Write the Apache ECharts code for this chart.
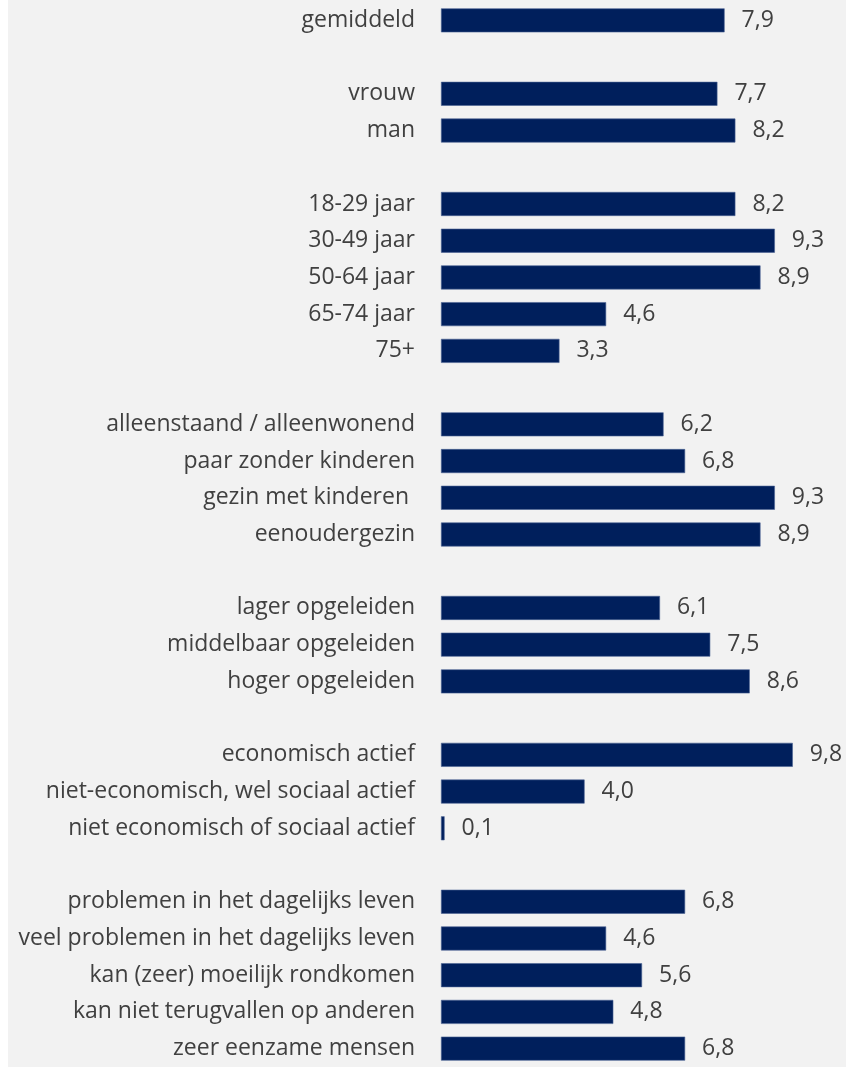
<!DOCTYPE html>
<html>
<head>
<meta charset="utf-8">
<script src="https://cdn.jsdelivr.net/npm/echarts@6/dist/echarts.min.js"></script>
<style>
    html, body { margin: 0; padding: 0; background: #ffffff; }
    #chart { position: absolute; left: 8px; top: 0; width: 838px; height: 1067px; background: #f2f2f2; }
</style>
</head>
<body>
<div id="chart"></div>
<script>
// categories, '' marks an empty row between groups
var categories = [
    'gemiddeld', '',
    'vrouw', 'man', '',
    '18-29 jaar', '30-49 jaar', '50-64 jaar', '65-74 jaar', '75+', '',
    'alleenstaand / alleenwonend', 'paar zonder kinderen', 'gezin met kinderen ', 'eenoudergezin', '',
    'lager opgeleiden', 'middelbaar opgeleiden', 'hoger opgeleiden', '',
    'economisch actief', 'niet-economisch, wel sociaal actief', 'niet economisch of sociaal actief', '',
    'problemen in het dagelijks leven', 'veel problemen in het dagelijks leven', 'kan (zeer) moeilijk rondkomen',
    'kan niet terugvallen op anderen', 'zeer eenzame mensen'
];
var values = [
    7.9, '-',
    7.7, 8.2, '-',
    8.2, 9.3, 8.9, 4.6, 3.3, '-',
    6.2, 6.8, 9.3, 8.9, '-',
    6.1, 7.5, 8.6, '-',
    9.8, 4.0, 0.1, '-',
    6.8, 4.6, 5.6, 4.8, 6.8
];

var chartDom = document.getElementById('chart');
var myChart = echarts.init(chartDom);
var option = {
    animation: false,
    textStyle: { fontFamily: 'Open Sans' },
    grid: { left: 433, right: 46, top: 2, bottom: 0 },
    xAxis: {
        type: 'value', min: 0, max: 10, show: false
    },
    yAxis: {
        type: 'category',
        inverse: true,
        data: categories,
        axisLine: { show: false },
        axisTick: { show: false },
        axisLabel: { color: '#404040', fontSize: 23, margin: 26 }
    },
    series: [{
        type: 'bar',
        data: values,
        barWidth: 24,
        itemStyle: { color: '#001f5c', borderColor: '#4a6394', borderWidth: 0.6 },
        label: {
            show: true,
            position: 'right',
            distance: 17,
            color: '#404040',
            fontSize: 23,
            formatter: function (p) { return p.value.toFixed(1).replace('.', ','); }
        }
    }]
};
myChart.setOption(option);
</script>
</body>
</html>
